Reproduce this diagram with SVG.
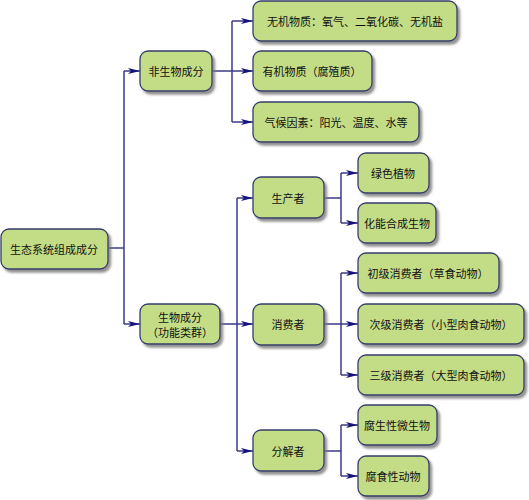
<svg xmlns="http://www.w3.org/2000/svg" width="529" height="500" viewBox="0 0 529 500">
<defs>
<marker id="ah" markerWidth="12" markerHeight="8" refX="12" refY="4" orient="auto" markerUnits="userSpaceOnUse">
<path d="M0,1 L12,4 L0,7 L3,4 Z" fill="#14147a"/>
</marker>
<filter id="sh" x="-10%" y="-10%" width="130%" height="140%">
<feDropShadow dx="2.5" dy="3" stdDeviation="0.8" flood-color="#777" flood-opacity="0.8"/>
</filter>
</defs>
<style>
.n rect{fill:#c3dc86;stroke:#363c6c;stroke-width:1.3;filter:url(#sh)}
.n text{font-family:"Noto Sans CJK SC","Noto Sans",sans-serif;font-size:11px;fill:#111;text-anchor:middle;dominant-baseline:central}
.c path{fill:none;stroke:#3c3a88;stroke-width:1.5}
.c .a{marker-end:url(#ah)}
</style>
<rect width="529" height="500" fill="#fff"/>
<g class="c">
<path d="M108,248 H124"/>
<path d="M124,71 V324"/>
<path class="a" d="M124,71 H140"/>
<path class="a" d="M124,324 H140"/>
<path d="M212,71 H232"/>
<path d="M232,21 V122"/>
<path class="a" d="M232,21 H253"/>
<path class="a" d="M232,71 H253"/>
<path class="a" d="M232,122 H253"/>
<path d="M220,324 H237"/>
<path d="M237,198 V451"/>
<path class="a" d="M237,198 H253"/>
<path class="a" d="M237,324 H253"/>
<path class="a" d="M237,451 H253"/>
<path d="M324,198 H341"/>
<path d="M341,173 V223"/>
<path class="a" d="M341,173 H358"/>
<path class="a" d="M341,223 H358"/>
<path d="M324,324 H341"/>
<path d="M341,273 V375"/>
<path class="a" d="M341,273 H358"/>
<path class="a" d="M341,324 H358"/>
<path class="a" d="M341,375 H358"/>
<path d="M324,451 H341"/>
<path d="M341,425 V476"/>
<path class="a" d="M341,425 H358"/>
<path class="a" d="M341,476 H358"/>
</g>
<g id="root" class="n"><rect x="1" y="229" width="107" height="40" rx="8"/><text x="54" y="249">生态系统组成成分</text></g>
<g id="abiotic" class="n"><rect x="140" y="51" width="72" height="40" rx="8"/><text x="176" y="71">非生物成分</text></g>
<g id="biotic" class="n"><rect x="140" y="304" width="80" height="40" rx="8"/><text x="180" y="317">生物成分</text><text x="180" y="332">（功能类群）</text></g>
<g id="inorganic" class="n"><rect x="253" y="1" width="204" height="40" rx="8"/><text x="355" y="21">无机物质：氧气、二氧化碳、无机盐</text></g>
<g id="organic" class="n"><rect x="253" y="51" width="119" height="40" rx="8"/><text x="312" y="71">有机物质（腐殖质）</text></g>
<g id="climate" class="n"><rect x="253" y="102" width="166" height="40" rx="8"/><text x="336" y="122">气候因素：阳光、温度、水等</text></g>
<g id="producer" class="n"><rect x="253" y="177" width="71" height="41" rx="8"/><text x="288" y="198">生产者</text></g>
<g id="consumer" class="n"><rect x="253" y="304" width="71" height="41" rx="8"/><text x="288" y="324">消费者</text></g>
<g id="decomposer" class="n"><rect x="253" y="430" width="71" height="41" rx="8"/><text x="288" y="451">分解者</text></g>
<g id="green" class="n"><rect x="358" y="153" width="71" height="40" rx="8"/><text x="393" y="173">绿色植物</text></g>
<g id="chemo" class="n"><rect x="358" y="203" width="78" height="40" rx="8"/><text x="397" y="223">化能合成生物</text></g>
<g id="primary" class="n"><rect x="358" y="253" width="141" height="40" rx="8"/><text x="428" y="273">初级消费者（草食动物）</text></g>
<g id="secondary" class="n"><rect x="358" y="304" width="166" height="40" rx="8"/><text x="441" y="324">次级消费者（小型肉食动物）</text></g>
<g id="tertiary" class="n"><rect x="358" y="355" width="166" height="40" rx="8"/><text x="441" y="375">三级消费者（大型肉食动物）</text></g>
<g id="saprophyte" class="n"><rect x="358" y="405" width="79" height="40" rx="8"/><text x="397" y="425">腐生性微生物</text></g>
<g id="detritivore" class="n"><rect x="358" y="456" width="71" height="40" rx="8"/><text x="393" y="476">腐食性动物</text></g>
</svg>
